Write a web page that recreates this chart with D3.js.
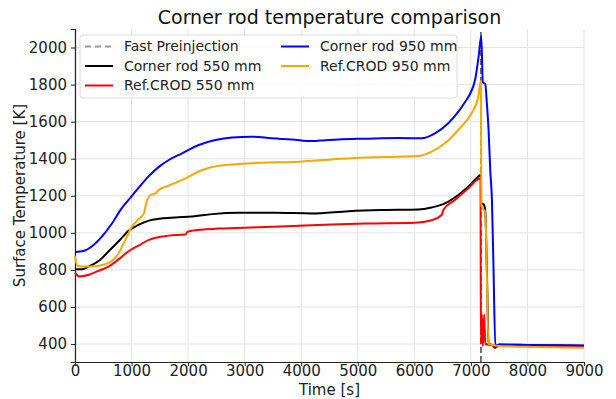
<!DOCTYPE html>
<html>
<head>
<meta charset="utf-8">
<script src="https://cdn.jsdelivr.net/npm/d3@7"></script>
<style>
  body { margin: 0; background: #fff; }
  svg { display: block; font-family: "DejaVu Sans", sans-serif; }
</style>
</head>
<body>
<div id="chart"></div>
<script>
// Data (time in s, temperature in K)
const preinjectionTime = 7177;

const corner550Time = [0, 129, 247, 424, 600, 776, 953, 1129, 1306, 1482, 1776, 2071, 2424, 2894, 3541, 4188, 4835, 5424, 6071, 6306, 6541, 6776, 7012, 7129, 7177, 7182, 7224, 7254, 7283, 7313, 7380, 7430, 7500, 8000, 9000];
const corner550Temp = [804, 804, 819, 849, 902, 956, 1012, 1044, 1066, 1076, 1083, 1088, 1101, 1108, 1108, 1105, 1117, 1123, 1126, 1137, 1159, 1204, 1267, 1303, 1312, 1160, 1155, 1119, 795, 400, 395, 380, 397, 395, 390];

const ref550Time = [0, 71, 247, 424, 600, 776, 953, 1129, 1306, 1659, 1953, 1990, 2071, 2541, 3247, 3953, 4541, 5129, 6012, 6306, 6482, 6500, 6512, 6718, 6953, 7129, 7170, 7177, 7195, 7212, 7236, 7254, 7400, 8000, 9000];
const ref550Temp = [785, 764, 774, 796, 819, 858, 902, 932, 962, 985, 991, 1005, 1012, 1023, 1030, 1038, 1045, 1050, 1054, 1068, 1096, 1110, 1123, 1177, 1240, 1290, 1295, 400, 560, 390, 560, 400, 392, 388, 384];

const corner950Time = [0, 160, 306, 482, 659, 806, 982, 1130, 1306, 1482, 1659, 1894, 2188, 2482, 2776, 3130, 3482, 3835, 4188, 4423, 4659, 5129, 5718, 6129, 6365, 6600, 6782, 6894, 6988, 7077, 7136, 7183, 7212, 7254, 7283, 7313, 7342, 7372, 7401, 7431, 7600, 8000, 8500, 9000];
const corner950Temp = [897, 903, 929, 982, 1053, 1124, 1190, 1245, 1306, 1356, 1393, 1429, 1474, 1501, 1515, 1519, 1510, 1504, 1495, 1500, 1504, 1508, 1512, 1510, 1537, 1591, 1655, 1705, 1752, 1830, 1950, 2062, 1812, 1804, 1696, 1554, 1339, 1179, 795, 395, 396, 395, 393, 392];

const ref950Time = [0, 41, 129, 306, 482, 659, 776, 894, 1012, 1130, 1218, 1259, 1335, 1424, 1482, 1659, 1953, 2247, 2541, 2894, 3247, 3953, 4541, 5129, 5718, 6071, 6306, 6541, 6776, 7012, 7129, 7177, 7185, 7200, 7254, 7313, 7500, 8000, 9000];
const ref950Temp = [876, 822, 819, 819, 826, 849, 893, 964, 1036, 1075, 1105, 1159, 1204, 1213, 1231, 1255, 1294, 1339, 1362, 1371, 1378, 1384, 1396, 1407, 1411, 1414, 1438, 1483, 1555, 1645, 1730, 1821, 1150, 1137, 1110, 400, 390, 385, 380];

const xTicks = [0, 1000, 2000, 3000, 4000, 5000, 6000, 7000, 8000, 9000];
const yTicks = [400, 600, 800, 1000, 1200, 1400, 1600, 1800, 2000];

const series = [
  { name: "Corner rod 550 mm", color: "#000000", time: corner550Time, temp: corner550Temp },
  { name: "Ref.CROD 550 mm", color: "#ff0000", time: ref550Time, temp: ref550Temp },
  { name: "Corner rod 950 mm", color: "#0000ff", time: corner950Time, temp: corner950Temp },
  { name: "Ref.CROD 950 mm", color: "#ffa500", time: ref950Time, temp: ref950Temp },
];

const WIDTH = 616, HEIGHT = 399;
const margin = { top: 29, right: 32, bottom: 37, left: 75 };
const innerW = WIDTH - margin.left - margin.right;
const innerH = HEIGHT - margin.top - margin.bottom;

const x = d3.scaleLinear().domain([0, 9000]).range([0, innerW]);
const y = d3.scaleLinear().domain([303, 2100]).range([innerH, 0]);

const svg = d3.select("#chart").append("svg")
  .attr("width", WIDTH)
  .attr("height", HEIGHT);

const g = svg.append("g").attr("transform", `translate(${margin.left},${margin.top})`);

// grid
g.append("g").selectAll("line").data(xTicks).enter().append("line")
  .attr("x1", d => x(d)).attr("x2", d => x(d))
  .attr("y1", 0).attr("y2", innerH)
  .attr("stroke", "#e3e3e3").attr("stroke-width", 1);
g.append("g").selectAll("line").data(yTicks).enter().append("line")
  .attr("x1", 0).attr("x2", innerW)
  .attr("y1", d => y(d)).attr("y2", d => y(d))
  .attr("stroke", "#e3e3e3").attr("stroke-width", 1);

// axes (left and bottom spines only)
const xAxis = g.append("g")
  .attr("transform", `translate(0,${innerH})`)
  .call(d3.axisBottom(x).tickValues(xTicks).tickFormat(d3.format("d")).tickSizeOuter(0).tickSize(4));
const yAxis = g.append("g")
  .call(d3.axisLeft(y).tickValues(yTicks).tickFormat(d3.format("d")).tickSizeOuter(0).tickSize(4));

[xAxis, yAxis].forEach(a => {
  a.select(".domain").attr("stroke", "#222").attr("stroke-width", 1.2);
  a.selectAll(".tick line").attr("stroke", "#222");
  a.selectAll(".tick text")
    .attr("fill", "#222")
    .style("font-family", "DejaVu Sans")
    .style("font-size", "15px");
});
xAxis.selectAll(".tick text").attr("y", 5).attr("dy", "0.6em");
yAxis.selectAll(".tick text").attr("dx", "-1px");

const line = d3.line()
  .curve(d3.curveMonotoneX)
  .x(d => x(d[0]))
  .y(d => y(d[1]));

const plot = g.append("g");

// fast preinjection marker
plot.append("line")
  .attr("x1", x(preinjectionTime)).attr("x2", x(preinjectionTime))
  .attr("y1", innerH).attr("y2", 0)
  .attr("stroke", "#555")
  .attr("stroke-width", 1.6)
  .attr("stroke-dasharray", "6,3");

series.forEach(s => {
  plot.append("path")
    .datum(d3.zip(s.time, s.temp))
    .attr("fill", "none")
    .attr("stroke", s.color)
    .attr("stroke-width", 2)
    .attr("stroke-linejoin", "round")
    .attr("d", line);
});

// title and axis labels
svg.append("text")
  .attr("x", margin.left + innerW / 2)
  .attr("y", 24)
  .attr("text-anchor", "middle")
  .style("font-size", "19px")
  .attr("fill", "#111")
  .text("Corner rod temperature comparison");

svg.append("text")
  .attr("x", margin.left + innerW / 2)
  .attr("y", 395)
  .attr("text-anchor", "middle")
  .style("font-size", "15px")
  .attr("fill", "#222")
  .text("Time [s]");

svg.append("text")
  .attr("transform", `translate(25,${margin.top + innerH / 2}) rotate(-90)`)
  .attr("text-anchor", "middle")
  .style("font-size", "15px")
  .attr("fill", "#222")
  .text("Surface Temperature [K]");

// legend
const legendItems = [
  { name: "Fast Preinjection", color: "#999", dash: "6,4", col: 0, row: 0 },
  { name: series[0].name, color: series[0].color, col: 0, row: 1 },
  { name: series[1].name, color: series[1].color, col: 0, row: 2 },
  { name: series[2].name, color: series[2].color, col: 1, row: 0 },
  { name: series[3].name, color: series[3].color, col: 1, row: 1 },
];

const legend = svg.append("g").attr("transform", "translate(80,35)");
legend.append("rect")
  .attr("width", 377).attr("height", 63)
  .attr("rx", 3)
  .attr("fill", "#fff").attr("fill-opacity", 0.85)
  .attr("stroke", "#dcdcdc");

const colX = [5, 201];
legendItems.forEach(d => {
  const ly = 11.5 + d.row * 19.5;
  legend.append("line")
    .attr("x1", colX[d.col]).attr("x2", colX[d.col] + 28)
    .attr("y1", ly).attr("y2", ly)
    .attr("stroke", d.color)
    .attr("stroke-width", 2)
    .attr("stroke-dasharray", d.dash || null);
  legend.append("text")
    .attr("x", colX[d.col] + 39)
    .attr("y", ly)
    .attr("dy", "0.35em")
    .style("font-size", "14px")
    .attr("fill", "#222")
    .text(d.name);
});
</script>
</body>
</html>
